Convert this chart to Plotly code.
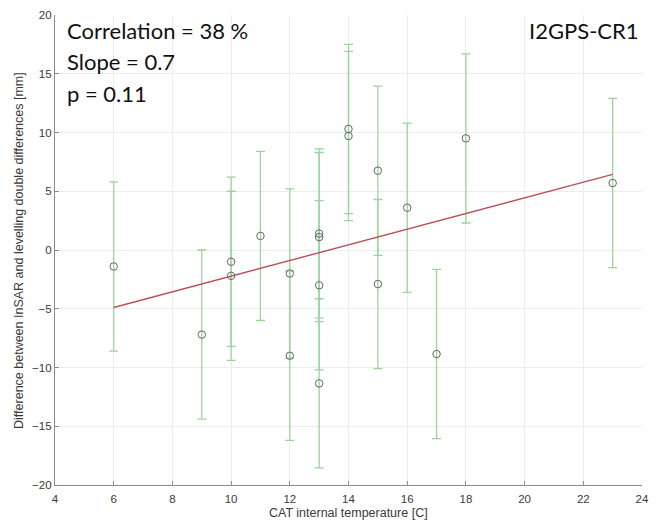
import numpy as np
import plotly.graph_objects as go

# Data
temperature = [6, 9, 10, 10, 11, 12, 12, 13, 13, 13, 13, 14, 14, 15, 15, 16, 17, 18, 23]
difference = [-1.4, -7.2, -1.0, -2.2, 1.2, -2.0, -9.0, 1.4, 1.1, -3.0, -11.35,
              10.3, 9.7, 6.75, -2.9, 3.6, -8.85, 9.5, 5.7]
error = [7.2] * len(temperature)

x_ticks = [4, 6, 8, 10, 12, 14, 16, 18, 20, 22, 24]
y_ticks = [-20, -15, -10, -5, 0, 5, 10, 15, 20]

stats_lines = ["Correlation = 38 %", "Slope = 0.7", "p = 0.11"]
station = "I2GPS-CR1"

# Linear fit drawn from min to max temperature
slope, intercept = np.polyfit(temperature, difference, 1)
fit_x = [min(temperature), max(temperature)]
fit_y = [slope * v + intercept for v in fit_x]

fig = go.Figure()
fig.add_trace(go.Scatter(
    x=temperature, y=difference, mode="markers",
    marker=dict(symbol="circle-open", size=7.5, color="#5e6b5e", line=dict(width=1)),
    error_y=dict(type="data", array=error, visible=True, color="#9ad69a",
                 thickness=1.3, width=4.5),
    showlegend=False,
))
fig.add_trace(go.Scatter(
    x=fit_x, y=fit_y, mode="lines",
    line=dict(color="#bc5058", width=1.4), showlegend=False,
))

axis_common = dict(
    showgrid=True, gridcolor="#ececec", gridwidth=1,
    showline=True, linecolor="#8a8a8a", linewidth=1.2,
    ticks="inside", ticklen=4, tickcolor="#8a8a8a",
    tickfont=dict(family="Liberation Sans, Arial, sans-serif", size=11.5, color="#3a3a3a"),
    zeroline=False, mirror=False,
)
fig.update_xaxes(range=[4, 24], tickvals=x_ticks, ticklabelstandoff=3, **axis_common)
fig.update_yaxes(range=[-20, 20], tickvals=y_ticks, **axis_common)

ann = []
ys = [0.968, 0.9, 0.834]
for txt, yy in zip(stats_lines, ys):
    ann.append(dict(text=txt, xref="paper", yref="paper", x=0.0177, y=yy,
                    xanchor="left", yanchor="middle", showarrow=False,
                    font=dict(family="Lato, Open Sans, sans-serif", size=22, color="#111")))
ann.append(dict(text=station, xref="paper", yref="paper", x=0.998, y=0.968,
                xanchor="right", yanchor="middle", showarrow=False,
                font=dict(family="Lato, Open Sans, sans-serif", size=22, color="#111")))
ann.append(dict(text="CAT internal temperature [C]", xref="paper", yref="paper",
                x=0.5, y=-0.0596, xanchor="center", yanchor="middle", showarrow=False,
                font=dict(family="Liberation Sans, Arial, sans-serif", size=12.5, color="#3a3a3a")))
ann.append(dict(text="Difference between InSAR and levelling double differences [mm]",
                xref="paper", yref="paper", x=-0.0614, y=0.5, textangle=-90,
                xanchor="center", yanchor="middle", showarrow=False,
                font=dict(family="Liberation Sans, Arial, sans-serif", size=12.5, color="#3a3a3a")))

fig.update_layout(
    width=657, height=525,
    margin=dict(l=54.5, r=8, t=15, b=40),
    plot_bgcolor="white", paper_bgcolor="white",
    annotations=ann,
)

fig.write_html("out.html")
